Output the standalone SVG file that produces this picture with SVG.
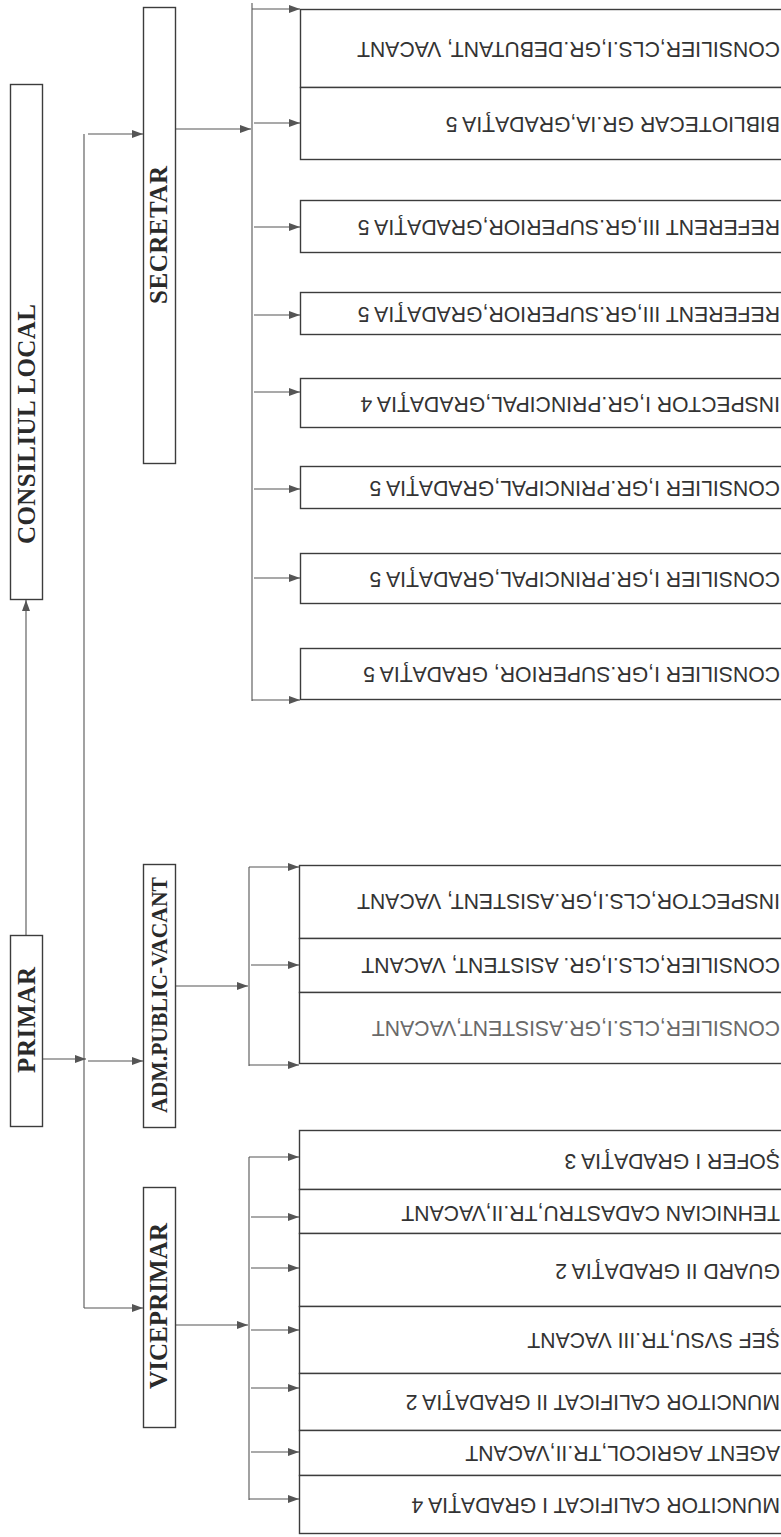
<svg xmlns="http://www.w3.org/2000/svg" width="781" height="1537" viewBox="0 0 781 1537">
<defs>
<marker id="ah" viewBox="0 0 11 8" refX="11" refY="4" markerWidth="11" markerHeight="8" markerUnits="userSpaceOnUse" orient="auto">
<path d="M0,0 L11,4 L0,8 z" fill="#555"/>
</marker>
<style>
.box{fill:#fff;stroke:#3c3c3c;stroke-width:1.4}
.lt{font-family:"Liberation Serif","Times New Roman",serif;font-weight:bold;font-size:25px;fill:#2a2a2a;text-anchor:middle}
.ltn{font-family:"Liberation Serif","Times New Roman",serif;font-weight:bold;font-size:24px;fill:#2a2a2a;text-anchor:middle}
.rt{font-family:"Liberation Sans",Arial,sans-serif;font-size:21.2px;fill:#333}
.faded{fill:#6a6a6a}
.cn{fill:none;stroke:#555;stroke-width:1.1}
.ar{marker-end:url(#ah)}
</style>
</defs>
<rect width="781" height="1537" fill="#fff"/>

<g id="connectors">
<path class="cn ar" d="M26,935 V600"/>
<path class="cn ar" d="M43,1059 H86"/>
<path class="cn" d="M84,134 V1308"/>
<path class="cn ar" d="M88,134 H143"/>
<path class="cn ar" d="M88,1061 H143"/>
<path class="cn ar" d="M84,1308 H143"/>
<path class="cn ar" d="M175,129 H251"/>
<path class="cn" d="M252,3 V701"/>
<path class="cn ar" d="M252,9 H300"/>
<path class="cn ar" d="M254,123 H300"/>
<path class="cn ar" d="M254,227 H300"/>
<path class="cn ar" d="M254,315 H300"/>
<path class="cn ar" d="M254,392 H300"/>
<path class="cn ar" d="M254,489 H300"/>
<path class="cn ar" d="M254,578 H300"/>
<path class="cn ar" d="M252,700 H300"/>
<path class="cn ar" d="M175,986 H248"/>
<path class="cn" d="M249,867 V1066"/>
<path class="cn ar" d="M249,867 H299"/>
<path class="cn ar" d="M251,965 H299"/>
<path class="cn ar" d="M249,1065 H299"/>
<path class="cn ar" d="M175,1325 H248"/>
<path class="cn" d="M249,1157 V1500"/>
<path class="cn ar" d="M249,1157 H299"/>
<path class="cn ar" d="M251,1217 H299"/>
<path class="cn ar" d="M251,1268 H299"/>
<path class="cn ar" d="M251,1330 H299"/>
<path class="cn ar" d="M251,1388 H299"/>
<path class="cn ar" d="M251,1452 H299"/>
<path class="cn ar" d="M249,1499 H299"/>
</g>

<g id="consiliul-local"><rect class="box" x="10.5" y="84.5" width="32" height="515"/><text class="lt" transform="translate(35,424) rotate(-90)" textLength="240">CONSILIUL LOCAL</text></g>
<g id="primar"><rect class="box" x="10.5" y="935.5" width="32" height="191"/><text class="lt" transform="translate(35,1020) rotate(-90)" textLength="106">PRIMAR</text></g>
<g id="secretar"><rect class="box" x="143.5" y="7.5" width="32" height="456"/><text class="lt" transform="translate(167,235) rotate(-90)" textLength="138">SECRETAR</text></g>
<g id="adm-public"><rect class="box" x="143.5" y="864.5" width="32" height="263"/><text class="ltn" transform="translate(167,995) rotate(-90)" textLength="236" lengthAdjust="spacingAndGlyphs">ADM.PUBLIC-VACANT</text></g>
<g id="viceprimar"><rect class="box" x="143.5" y="1187.5" width="32" height="240"/><text class="lt" transform="translate(167,1306) rotate(-90)" textLength="166">VICEPRIMAR</text></g>

<g id="s1"><rect class="box" x="300.5" y="9.5" width="500" height="78"/><text class="rt" transform="translate(780,50) rotate(180)" y="7.6">CONSILIER,CLS.I,GR.DEBUTANT, VACANT</text></g>
<g id="s2"><rect class="box" x="300.5" y="87.5" width="500" height="72"/><text class="rt" transform="translate(780,125) rotate(180)" y="7.6">BIBLIOTECAR GR.IA,GRADAŢIA 5</text></g>
<g id="s3"><rect class="box" x="300.5" y="200.5" width="500" height="52"/><text class="rt" transform="translate(780,228) rotate(180)" y="7.6">REFERENT III,GR.SUPERIOR,GRADAŢIA 5</text></g>
<g id="s4"><rect class="box" x="300.5" y="292.5" width="500" height="42"/><text class="rt" transform="translate(780,315) rotate(180)" y="7.6">REFERENT III,GR.SUPERIOR,GRADAŢIA 5</text></g>
<g id="s5"><rect class="box" x="300.5" y="378.5" width="500" height="49"/><text class="rt" transform="translate(780,405) rotate(180)" y="7.6">INSPECTOR I,GR.PRINCIPAL,GRADAŢIA 4</text></g>
<g id="s6"><rect class="box" x="300.5" y="466.5" width="500" height="42"/><text class="rt" transform="translate(780,489) rotate(180)" y="7.6">CONSILIER I,GR.PRINCIPAL,GRADAŢIA 5</text></g>
<g id="s7"><rect class="box" x="300.5" y="553.5" width="500" height="50"/><text class="rt" transform="translate(780,580) rotate(180)" y="7.6">CONSILIER I,GR.PRINCIPAL,GRADAŢIA 5</text></g>
<g id="s8"><rect class="box" x="300.5" y="648.5" width="500" height="51"/><text class="rt" transform="translate(780,675) rotate(180)" y="7.6">CONSILIER I,GR.SUPERIOR, GRADAŢIA 5</text></g>

<g id="a1"><rect class="box" x="299.5" y="865.5" width="500" height="73"/><text class="rt" transform="translate(780,902) rotate(180)" y="7.6">INSPECTOR,CLS.I,GR.ASISTENT, VACANT</text></g>
<g id="a2"><rect class="box" x="299.5" y="938.5" width="500" height="54"/><text class="rt" transform="translate(780,966) rotate(180)" y="7.6">CONSILIER,CLS.I,GR. ASISTENT, VACANT</text></g>
<g id="a3"><rect class="box" x="299.5" y="992.5" width="500" height="71"/><text class="rt faded" transform="translate(780,1029) rotate(180)" y="7.6">CONSILIER,CLS.I,GR.ASISTENT,VACANT</text></g>

<g id="v1"><rect class="box" x="299.5" y="1130.5" width="500" height="59"/><text class="rt" transform="translate(780,1162) rotate(180)" y="7.6">ŞOFER I GRADAŢIA 3</text></g>
<g id="v2"><rect class="box" x="299.5" y="1189.5" width="500" height="44"/><text class="rt" transform="translate(780,1214) rotate(180)" y="7.6">TEHNICIAN CADASTRU,TR.II,VACANT</text></g>
<g id="v3"><rect class="box" x="299.5" y="1233.5" width="500" height="73"/><text class="rt" transform="translate(780,1272) rotate(180)" y="7.6">GUARD II GRADAŢIA 2</text></g>
<g id="v4"><rect class="box" x="299.5" y="1306.5" width="500" height="67"/><text class="rt" transform="translate(780,1341) rotate(180)" y="7.6">ŞEF SVSU,TR.III VACANT</text></g>
<g id="v5"><rect class="box" x="299.5" y="1373.5" width="500" height="57"/><text class="rt" transform="translate(780,1403) rotate(180)" y="7.6">MUNCITOR CALIFICAT II GRADAŢIA 2</text></g>
<g id="v6"><rect class="box" x="299.5" y="1430.5" width="500" height="45"/><text class="rt" transform="translate(780,1454) rotate(180)" y="7.6">AGENT AGRICOL,TR.II,VACANT</text></g>
<g id="v7"><rect class="box" x="299.5" y="1475.5" width="500" height="58"/><text class="rt" transform="translate(780,1506) rotate(180)" y="7.6">MUNCITOR CALIFICAT I GRADAŢIA 4</text></g>
</svg>
